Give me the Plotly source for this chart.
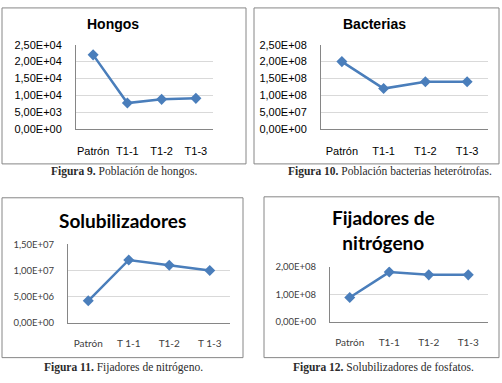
import plotly.graph_objects as go

W, H = 502, 383

# ---- data ----
cats_a = ["Patrón", "T1-1", "T1-2", "T1-3"]
cats_c = ["Patrón", "T 1-1", "T1-2", "T 1-3"]

hongos = [2.2e4, 7.7e3, 8.8e3, 9.1e3]
bacterias = [2.0e8, 1.2e8, 1.4e8, 1.4e8]
solubilizadores = [4.2e6, 1.2e7, 1.1e7, 1.0e7]
fijadores = [8.8e7, 1.8e8, 1.7e8, 1.7e8]

ticks_hongos = [0, 5e3, 1e4, 1.5e4, 2e4, 2.5e4]
labels_hongos = ["0,00E+00", "5,00E+03", "1,00E+04", "1,50E+04", "2,00E+04", "2,50E+04"]
ticks_bact = [0, 5e7, 1e8, 1.5e8, 2e8, 2.5e8]
labels_bact = ["0,00E+00", "5,00E+07", "1,00E+08", "1,50E+08", "2,00E+08", "2,50E+08"]
ticks_sol = [0, 5e6, 1e7, 1.5e7]
labels_sol = ["0,00E+00", "5,00E+06", "1,00E+07", "1,50E+07"]
ticks_fij = [0, 1e8, 2e8]
labels_fij = ["0,00E+00", "1,00E+08", "2,00E+08"]

titles = ["Hongos", "Bacterias", "Solubilizadores", "Fijadores de<br>nitrógeno"]
captions = [
    "<b>Figura 9.</b> Población de hongos.",
    "<b>Figura 10.</b> Población bacterias heterótrofas.",
    "<b>Figura 11.</b> Fijadores de nitrógeno.",
    "<b>Figura 12.</b> Solubilizadores de fosfatos.",
]

# ---- layout geometry (pixels) ----
def px_x(x):
    return x / W

def px_y(y):
    return 1 - y / H

panels = [
    dict(cats=cats_a, vals=hongos, tv=ticks_hongos, tt=labels_hongos, rng=[0, 2.5e4],
         plot=(76, 213, 40, 127), frame=(2, 246, 2, 163), title_xy=(113, 19),
         cap_xy=(124, 171), font="Liberation Sans", tfs=11, titfs=14, titfont="Liberation Sans"),
    dict(cats=cats_a, vals=bacterias, tv=ticks_bact, tt=labels_bact, rng=[0, 2.5e8],
         plot=(321, 488, 40, 127), frame=(254, 499, 2, 163), title_xy=(374, 19),
         cap_xy=(390, 171), font="Liberation Sans", tfs=11, titfs=14, titfont="Liberation Sans"),
    dict(cats=cats_c, vals=solubilizadores, tv=ticks_sol, tt=labels_sol, rng=[0, 1.5e7],
         plot=(68, 230, 246, 327), frame=(2, 243, 198, 363), title_xy=(122, 221),
         cap_xy=(123, 373), font="Lato", tfs=9.5, titfs=19, titfont="Lato"),
    dict(cats=cats_a, vals=fijadores, tv=ticks_fij, tt=labels_fij, rng=[0, 2e8],
         plot=(330, 488, 269, 326), frame=(264, 499, 197, 363), title_xy=(383, 231),
         cap_xy=(383, 373), font="Lato", tfs=9.5, titfs=19, titfont="Lato"),
]

fig = go.Figure()
shapes = []
annotations = []
line_color = "#4a7ebb"

for i, p in enumerate(panels):
    n = "" if i == 0 else str(i + 1)
    x0, x1, y0, y1 = p["plot"]
    fig.add_trace(go.Scatter(
        x=p["cats"], y=p["vals"], mode="lines+markers",
        line=dict(color=line_color, width=2.5),
        marker=dict(symbol="diamond", size=8.5, color=line_color),
        xaxis="x" + n, yaxis="y" + n, showlegend=False, hoverinfo="skip",
    ))
    fig.layout["xaxis" + n] = dict(
        domain=[px_x(x0), px_x(x1)], anchor="y" + n, type="category",
        range=[-0.5, 3.5], showgrid=False, showline=True, linecolor="#868686",
        linewidth=1, ticks="", ticklabelstandoff=12 if i < 2 else 11,
        tickfont=dict(family=p["font"], size=p["tfs"] + (0 if i < 2 else 0.5),
                      color="#404040" if i >= 2 else "#000"),
        zeroline=False, fixedrange=True,
    )
    fig.layout["yaxis" + n] = dict(
        domain=[px_y(y1), px_y(y0)], anchor="x" + n, range=p["rng"],
        tickvals=p["tv"], ticktext=p["tt"], showgrid=True, gridcolor="#d9d9d9",
        gridwidth=1, showline=True, linecolor="#868686", linewidth=1,
        ticks="", ticklabelstandoff=11, zeroline=False,
        tickfont=dict(family=p["font"], size=p["tfs"], color="#404040" if i >= 2 else "#000"),
        fixedrange=True,
    )
    fx0, fx1, fy0, fy1 = p["frame"]
    shapes.append(dict(type="rect", xref="paper", yref="paper",
                       x0=px_x(fx0), x1=px_x(fx1), y0=px_y(fy1), y1=px_y(fy0),
                       line=dict(color="#868686", width=1)))
    tx, ty = p["title_xy"]
    annotations.append(dict(text="<b>" + titles[i] + "</b>", xref="paper", yref="paper",
                            x=px_x(tx), y=px_y(ty), showarrow=False,
                            xanchor="center", yanchor="middle",
                            font=dict(family=p["titfont"], size=p["titfs"], color="#000")))
    cx, cy = p["cap_xy"]
    annotations.append(dict(text=captions[i], xref="paper", yref="paper",
                            x=px_x(cx), y=px_y(cy), showarrow=False,
                            xanchor="center", yanchor="middle",
                            font=dict(family="Liberation Serif", size=11.5, color="#2b2b2b")))

fig.update_layout(
    width=W, height=H, margin=dict(l=0, r=0, t=0, b=0),
    paper_bgcolor="white", plot_bgcolor="white",
    shapes=shapes, annotations=annotations,
)

fig.write_html("out.html", config={"displayModeBar": False},
               post_script="document.body.style.margin='0';document.body.style.overflow='hidden';")
